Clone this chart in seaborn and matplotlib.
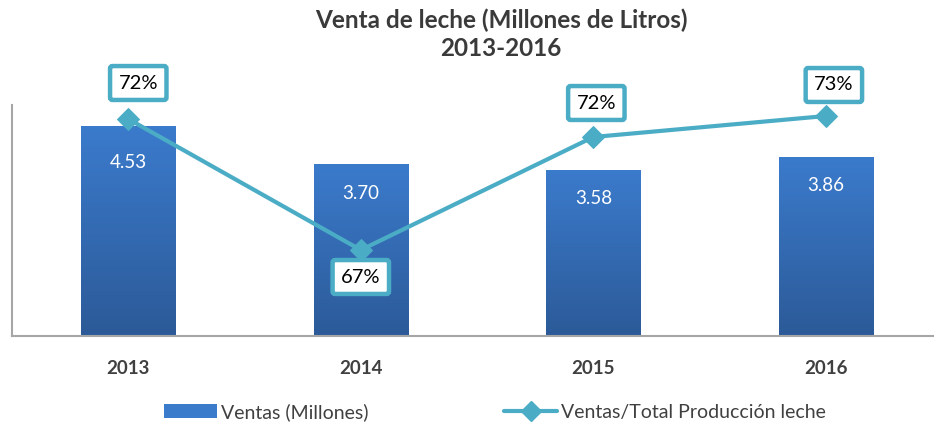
#!/usr/bin/env python3
"""Venta de leche (Millones de Litros) 2013-2016: bars + share line on a twin axis."""

import matplotlib
import numpy as np
import pandas as pd
import seaborn as sns

matplotlib.use("Agg")
import matplotlib.pyplot as plt
from matplotlib.lines import Line2D
from matplotlib.patches import Patch

YEARS = ["2013", "2014", "2015", "2016"]
SALES = [4.53, 3.70, 3.58, 3.86]
SHARE = [0.7242, 0.6718, 0.7170, 0.7254]
SALES_LABEL = "Ventas (Millones)"
SHARE_LABEL = "Ventas/Total Producción leche"
TITLE = "Venta de leche (Millones de Litros)\n2013-2016"

BAR_TOP = "#3b7bcc"
BAR_BOTTOM = "#2c5a98"
LINE_COLOR = "#4bacc6"
TEXT_COLOR = "#404040"
# label box offsets in pixels (dx, dy) relative to each marker
LABEL_OFFSETS = [(10, 36), (0, -27), (3, 34), (8, 31)]


def paint_gradient(ax, patches):
    grad = np.linspace(0, 1, 256).reshape(-1, 1)
    cmap = matplotlib.colors.LinearSegmentedColormap.from_list("bar", [BAR_BOTTOM, BAR_TOP])
    for p in patches:
        x0, y0 = p.get_x(), p.get_y()
        w, h = p.get_width(), p.get_height()
        im = ax.imshow(grad, cmap=cmap, extent=(x0, x0 + w, y0, y0 + h),
                       origin="lower", aspect="auto", zorder=2)
        im.set_clip_path(p)
        p.set_facecolor("none")


def main() -> None:
    sns.set_theme(style="white")
    plt.rcParams["font.family"] = ["Lato", "DejaVu Sans"]

    df = pd.DataFrame({"year": YEARS, "sales": SALES, "share": SHARE})

    fig = plt.figure(figsize=(9.34, 4.24), dpi=100)
    ax = fig.add_axes([12 / 934, 88 / 424, 922 / 934, 231 / 424])

    sns.barplot(data=df, x="year", y="sales", color=BAR_TOP, width=0.405,
                saturation=1, ax=ax, zorder=2)
    paint_gradient(ax, ax.patches)
    ax.set_xlim(-0.5, 3.465)
    ax.set_ylim(0, 4.98)

    for i, v in enumerate(SALES):
        ax.annotate(f"{v:.2f}", (i, v), xytext=(0, -37 if i == 0 else -29),
                    textcoords="offset pixels", ha="center", va="center",
                    color="white", fontsize=13.5, zorder=5)

    ax.set_yticks([])
    ax.set_xlabel("")
    ax.set_ylabel("")
    ax.tick_params(axis="x", length=0, pad=17)
    for lab in ax.get_xticklabels():
        lab.set_fontweight("bold")
        lab.set_fontsize(13.5)
        lab.set_color(TEXT_COLOR)
    for side in ["top", "right"]:
        ax.spines[side].set_visible(False)
    for side in ["left", "bottom"]:
        ax.spines[side].set_color("#a6a6a6")
        ax.spines[side].set_linewidth(1.5)

    ax2 = ax.twinx()
    sns.lineplot(data=df, x="year", y="share", color=LINE_COLOR, linewidth=3,
                 marker="D", markersize=11, markeredgecolor=LINE_COLOR,
                 ax=ax2, zorder=4)
    ax2.set_ylim(0.6374, 0.7298)
    ax2.set_yticks([])
    ax2.set_ylabel("")
    ax2.set_xlabel("")
    for side in ["top", "right", "left", "bottom"]:
        ax2.spines[side].set_visible(False)

    for i, (v, off) in enumerate(zip(SHARE, LABEL_OFFSETS)):
        ax2.annotate(f"{v:.0%}", (i, v), xytext=off, textcoords="offset pixels",
                     ha="center", va="center", fontsize=14.5, color="black",
                     zorder=6,
                     bbox=dict(boxstyle="round,pad=0.42,rounding_size=0.12",
                               facecolor="white", edgecolor=LINE_COLOR, linewidth=3.2))

    fig.text(501 / 934, 1 - 9 / 424, TITLE, ha="center", va="top",
             fontsize=17.5, fontweight="bold", color="#3a3a3a", linespacing=1.25)

    handles = [
        Patch(facecolor=BAR_TOP, edgecolor="none"),
        Line2D([], [], color=LINE_COLOR, linewidth=3, marker="D", markersize=10),
    ]
    fig.legend(handles, [SALES_LABEL, SHARE_LABEL], loc="center",
               bbox_to_anchor=(495 / 934, 12 / 424), ncol=2, frameon=False,
               fontsize=14, labelcolor=TEXT_COLOR, columnspacing=7.0,
               handlelength=2.7, handletextpad=0.2)

    fig.savefig("out.png", dpi=100)
    plt.close(fig)


if __name__ == "__main__":
    main()
